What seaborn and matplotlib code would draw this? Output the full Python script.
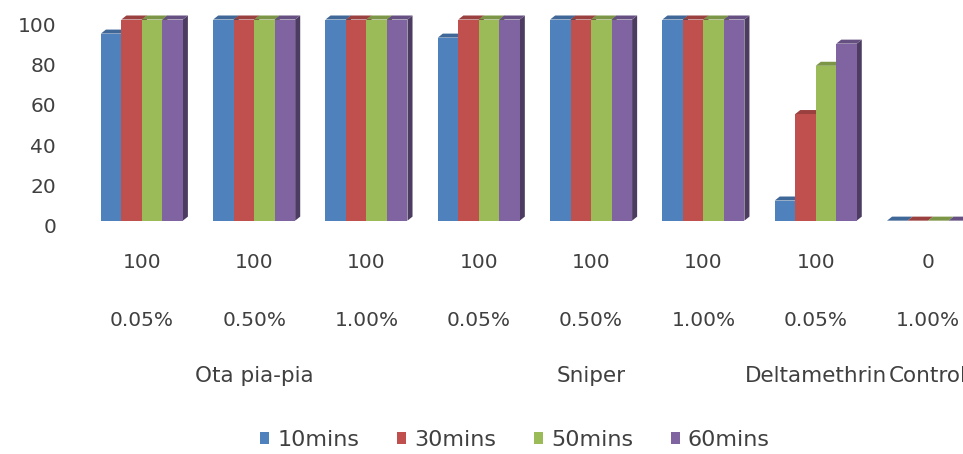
import numpy as np
import pandas as pd
import seaborn as sns
import matplotlib.pyplot as plt
from matplotlib.patches import Polygon, Patch
from matplotlib.colors import to_rgb
from matplotlib.transforms import blended_transform_factory, ScaledTranslation

# data
doses = ["100", "100", "100", "100", "100", "100", "100", "0"]
concs = ["0.05%", "0.50%", "1.00%", "0.05%", "0.50%", "1.00%", "0.05%", "1.00%"]
products = ["Ota pia-pia", "Sniper", "Deltamethrin", "Control"]
product_pos = [1, 4, 6, 7]
series = ["10mins", "30mins", "50mins", "60mins"]
t10 = [93, 100, 100, 91, 100, 100, 10, 0]
t30 = [100, 100, 100, 100, 100, 100, 53, 0]
t50 = [100, 100, 100, 100, 100, 100, 77, 0]
t60 = [100, 100, 100, 100, 100, 100, 88, 0]
colors = ['#4F81BD', '#C0504D', '#9BBB59', '#8064A2']

cats = [f"g{i}" for i in range(len(concs))]
df = pd.concat([pd.DataFrame({'cat': cats, 'time': s, 'value': v})
                for s, v in zip(series, [t10, t30, t50, t60])])

sns.set_style("white")
plt.rcParams['font.family'] = ['DejaVu Sans']
txt_color = '#404040'
fs = 14.5
fs_words = 15.5

fig = plt.figure(figsize=(9.63, 4.54), dpi=100)
ax = fig.add_axes([0.054, 0.514, 0.968, 0.443])

sns.barplot(data=df, x='cat', y='value', hue='time', order=cats, hue_order=series,
            palette=colors, width=0.73, saturation=1, legend=False, ax=ax,
            linewidth=0)

# fake excel-like 3d depth: side + top faces, drawn left to right
dx, dy = 0.045, 2.0
bars = sorted([p for p in ax.patches], key=lambda p: p.get_x())
for k, p in enumerate(bars):
    x, w, h = p.get_x(), p.get_width(), p.get_height()
    c = np.array(to_rgb(p.get_facecolor()))
    base = 3 * k + 2
    p.set_zorder(base + 1)
    p.set_clip_on(False)
    side = Polygon([(x + w, 0), (x + w + dx, dy), (x + w + dx, h + dy), (x + w, h)],
                   closed=True, facecolor=c * 0.6, edgecolor='none', zorder=base, clip_on=False)
    top = Polygon([(x, h), (x + w, h), (x + w + dx, h + dy), (x + dx, h + dy)],
                  closed=True, facecolor=c * 0.8, edgecolor='none', zorder=base + 2, clip_on=False)
    ax.add_patch(side)
    ax.add_patch(top)

ax.set_xlim(-0.8, 7.5)
ax.set_ylim(0, 100)
ax.set_yticks(range(0, 101, 20))
ax.tick_params(axis='y', length=0, labelsize=fs, labelcolor=txt_color, pad=-3)
ax.set_xticks([])
ax.set_xlabel('')
ax.set_ylabel('')
sns.despine(ax=ax, left=True, bottom=True)

# excel draws the value labels a bit below the bar floor
shift = ScaledTranslation(0, -5 / 100, fig.dpi_scale_trans)
for lab in ax.get_yticklabels():
    lab.set_transform(lab.get_transform() + shift)

# multi-level category labels
tr = blended_transform_factory(ax.transData, fig.transFigure)
for i, (d, c) in enumerate(zip(doses, concs)):
    ax.text(i, 0.421, d, transform=tr, ha='center', va='center', fontsize=fs, color=txt_color)
    ax.text(i, 0.295, c, transform=tr, ha='center', va='center', fontsize=fs, color=txt_color)
for name, pos in zip(products, product_pos):
    t = ax.text(pos, 0.172, name, transform=tr, ha='center', va='center', fontsize=fs_words,
                color=txt_color)
    if name == "Control":
        t.set_bbox(dict(facecolor='white', edgecolor='none', pad=0))
        t.set_zorder(5)

handles = [Patch(facecolor=c, edgecolor='none') for c in colors]
fig.legend(handles, series, loc='center', bbox_to_anchor=(515 / 963, 1 - 440 / 454), ncol=4,
           frameon=False, fontsize=fs_words + 0.5, labelcolor=txt_color, handlelength=0.42,
           handleheight=0.42, handletextpad=0.35, columnspacing=1.7)

fig.savefig('out.png', dpi=100)
